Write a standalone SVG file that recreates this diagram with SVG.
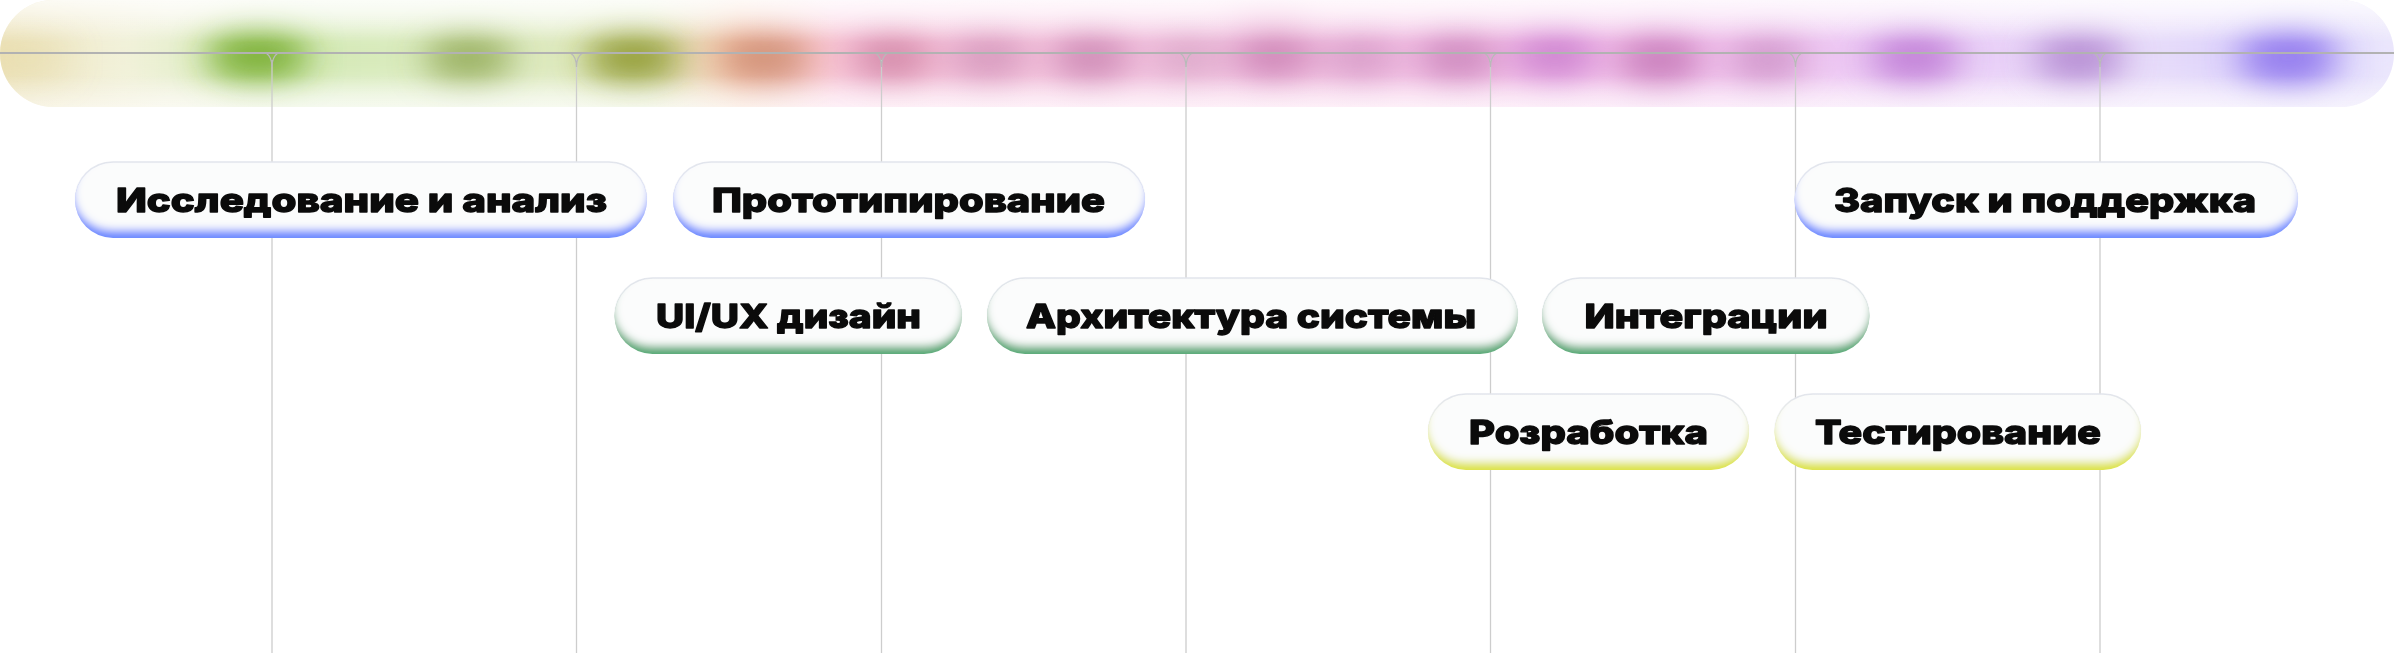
<svg xmlns="http://www.w3.org/2000/svg" width="2394" height="653" viewBox="0 0 2394 653">
<style>
.tl{stroke:#b2b2b2;stroke-width:2;fill:none}
.vl{stroke:#cdcdcd;stroke-width:1.3;fill:none}
.fl{stroke:#b9b9b9;stroke-width:1.3;fill:none}
.lbl{font-family:"Inter","Liberation Sans",sans-serif;font-weight:800;font-size:33px;fill:#0b0b0b;stroke:#0b0b0b;stroke-width:1.3;stroke-linejoin:round;text-anchor:middle}
.edge{fill:none;stroke:url(#edgeG);stroke-width:1.5}
.blue{fill:#6a88ff}
.green{fill:#52a873}
.yellow{fill:#dde33f}
</style>
<defs>
<clipPath id="bandClip"><rect x="0" y="0" width="2394" height="107" rx="53.5"/></clipPath>
<linearGradient id="bandH" x1="0" y1="0" x2="2394" y2="0" gradientUnits="userSpaceOnUse">
<stop offset="0" stop-color="#f1eacc"/>
<stop offset="0.07" stop-color="#f6f5e6"/>
<stop offset="0.12" stop-color="#eef6e2"/>
<stop offset="0.27" stop-color="#f1f6e4"/>
<stop offset="0.31" stop-color="#fbe8dd"/>
<stop offset="0.35" stop-color="#fde6f2"/>
<stop offset="0.6" stop-color="#fce4f4"/>
<stop offset="0.72" stop-color="#f9e0f7"/>
<stop offset="0.86" stop-color="#f5eafc"/>
<stop offset="1" stop-color="#eeeafc"/>
</linearGradient>
<linearGradient id="bandV" x1="0" y1="0" x2="0" y2="107" gradientUnits="userSpaceOnUse">
<stop offset="0" stop-color="#fff" stop-opacity="0.75"/>
<stop offset="0.4" stop-color="#fff" stop-opacity="0"/>
<stop offset="0.7" stop-color="#fff" stop-opacity="0"/>
<stop offset="1" stop-color="#fff" stop-opacity="0.45"/>
</linearGradient>
<linearGradient id="haloH" x1="0" y1="0" x2="2394" y2="0" gradientUnits="userSpaceOnUse">
<stop offset="0" stop-color="#e8daa6" stop-opacity="0.55"/>
<stop offset="0.05" stop-color="#eef0d4" stop-opacity="0.4"/>
<stop offset="0.1" stop-color="#bce090" stop-opacity="0.6"/>
<stop offset="0.2" stop-color="#cfe4a8" stop-opacity="0.55"/>
<stop offset="0.27" stop-color="#cdd894" stop-opacity="0.55"/>
<stop offset="0.31" stop-color="#f6b296" stop-opacity="0.65"/>
<stop offset="0.36" stop-color="#f4acca" stop-opacity="0.6"/>
<stop offset="0.5" stop-color="#f2b4da" stop-opacity="0.6"/>
<stop offset="0.65" stop-color="#f0aae2" stop-opacity="0.65"/>
<stop offset="0.73" stop-color="#eeb2ea" stop-opacity="0.6"/>
<stop offset="0.8" stop-color="#dcaef2" stop-opacity="0.5"/>
<stop offset="0.9" stop-color="#d8cbf8" stop-opacity="0.45"/>
<stop offset="0.96" stop-color="#bcaefc" stop-opacity="0.55"/>
<stop offset="1" stop-color="#e4e0fc" stop-opacity="0.3"/>
</linearGradient>
<filter id="haloBlur" filterUnits="userSpaceOnUse" x="-100" y="-100" width="2600" height="300">
<feGaussianBlur stdDeviation="12"/>
</filter>
<filter id="blobBlur" filterUnits="userSpaceOnUse" x="-100" y="-100" width="2600" height="300">
<feGaussianBlur stdDeviation="17"/>
</filter>
<linearGradient id="edgeG" x1="0" y1="0" x2="0" y2="1">
<stop offset="0" stop-color="#e2e5ec"/>
<stop offset="0.55" stop-color="#e2e5ec" stop-opacity="0"/>
</linearGradient>
<filter id="pill" x="-5%" y="-30%" width="110%" height="160%">
<feMorphology in="SourceAlpha" operator="dilate" radius="2 0" result="d"/>
<feGaussianBlur in="d" stdDeviation="4" result="b"/>
<feOffset in="b" dy="-8" result="o"/>
<feFlood flood-color="#fbfcfc" result="w"/>
<feComposite in="w" in2="o" operator="in" result="wo"/>
<feComposite in="wo" in2="SourceAlpha" operator="in" result="wc"/>
<feMerge><feMergeNode in="SourceGraphic"/><feMergeNode in="wc"/></feMerge>
</filter>
</defs>

<g id="band" clip-path="url(#bandClip)">
<rect x="0" y="0" width="2394" height="107" fill="url(#bandH)"/>
<rect x="-40" y="26" width="2474" height="60" fill="url(#haloH)" filter="url(#haloBlur)"/>
<g filter="url(#blobBlur)">
<ellipse cx="30" cy="58" rx="40" ry="24" fill="#e6d6a0" opacity="0.35"/>
<ellipse cx="258" cy="56" rx="52" ry="24" fill="#72aa28" opacity="0.95"/>
<ellipse cx="469" cy="58" rx="46" ry="22" fill="#86a046" opacity="0.85"/>
<ellipse cx="633" cy="58" rx="48" ry="24" fill="#889224" opacity="0.9"/>
<ellipse cx="765" cy="58" rx="46" ry="24" fill="#c8866a" opacity="0.85"/>
<ellipse cx="892" cy="58" rx="42" ry="22" fill="#c87898" opacity="0.8"/>
<ellipse cx="989" cy="58" rx="42" ry="22" fill="#c888b0" opacity="0.75"/>
<ellipse cx="1091" cy="58" rx="42" ry="22" fill="#c078a8" opacity="0.8"/>
<ellipse cx="1188" cy="58" rx="40" ry="20" fill="#c890b4" opacity="0.6"/>
<ellipse cx="1274" cy="56" rx="42" ry="22" fill="#c070a8" opacity="0.8"/>
<ellipse cx="1270" cy="14" rx="44" ry="20" fill="#f2b8dc" opacity="0.45"/>
<ellipse cx="1361" cy="58" rx="40" ry="20" fill="#c888b8" opacity="0.7"/>
<ellipse cx="1458" cy="58" rx="42" ry="22" fill="#c078b0" opacity="0.8"/>
<ellipse cx="1555" cy="56" rx="44" ry="22" fill="#c070c8" opacity="0.8"/>
<ellipse cx="1660" cy="60" rx="44" ry="24" fill="#c070b0" opacity="0.85"/>
<ellipse cx="1767" cy="60" rx="40" ry="22" fill="#c080b8" opacity="0.7"/>
<ellipse cx="1915" cy="58" rx="46" ry="24" fill="#b870d0" opacity="0.85"/>
<ellipse cx="2079" cy="58" rx="46" ry="24" fill="#a878c8" opacity="0.8"/>
<ellipse cx="2288" cy="58" rx="50" ry="26" fill="#8a70ec" opacity="0.9"/>
</g>
<rect x="0" y="0" width="2394" height="107" fill="url(#bandV)"/>
</g>

<g id="connectors">
<line class="vl" x1="272" y1="60" x2="272" y2="653"/>
<line class="vl" x1="576.5" y1="60" x2="576.5" y2="653"/>
<line class="vl" x1="881.5" y1="60" x2="881.5" y2="653"/>
<line class="vl" x1="1186" y1="60" x2="1186" y2="653"/>
<line class="vl" x1="1490.5" y1="60" x2="1490.5" y2="653"/>
<line class="vl" x1="1795.5" y1="60" x2="1795.5" y2="653"/>
<line class="vl" x1="2100" y1="60" x2="2100" y2="653"/>
<path class="fl" d="M266,53 C269,55 272,59 272,67 M278,53 C275,55 272,59 272,67"/>
<path class="fl" d="M570.5,53 C573.5,55 576.5,59 576.5,67 M582.5,53 C579.5,55 576.5,59 576.5,67"/>
<path class="fl" d="M875.5,53 C878.5,55 881.5,59 881.5,67 M887.5,53 C884.5,55 881.5,59 881.5,67"/>
<path class="fl" d="M1180,53 C1183,55 1186,59 1186,67 M1192,53 C1189,55 1186,59 1186,67"/>
<path class="fl" d="M1484.5,53 C1487.5,55 1490.5,59 1490.5,67 M1496.5,53 C1493.5,55 1490.5,59 1490.5,67"/>
<path class="fl" d="M1789.5,53 C1792.5,55 1795.5,59 1795.5,67 M1801.5,53 C1798.5,55 1795.5,59 1795.5,67"/>
<path class="fl" d="M2094,53 C2097,55 2100,59 2100,67 M2106,53 C2103,55 2100,59 2100,67"/>
<line class="tl" x1="0" y1="53" x2="2394" y2="53"/>
</g>

<g id="n1">
<rect class="blue" x="75" y="162" width="572" height="76" rx="38" filter="url(#pill)"/>
<rect class="edge" x="75" y="162" width="572" height="76" rx="38"/>
<text class="lbl" x="361.5" y="212" textLength="491" lengthAdjust="spacingAndGlyphs">Исследование и анализ</text>
</g>
<g id="n2">
<rect class="blue" x="673" y="162" width="472" height="76" rx="38" filter="url(#pill)"/>
<rect class="edge" x="673" y="162" width="472" height="76" rx="38"/>
<text class="lbl" x="908.5" y="212" textLength="393" lengthAdjust="spacingAndGlyphs">Прототипирование</text>
</g>
<g id="n3">
<rect class="green" x="614.5" y="278" width="347.5" height="76" rx="38" filter="url(#pill)"/>
<rect class="edge" x="614.5" y="278" width="347.5" height="76" rx="38"/>
<text class="lbl" x="788.5" y="328" textLength="265" lengthAdjust="spacingAndGlyphs">UI/UX дизайн</text>
</g>
<g id="n4">
<rect class="green" x="987" y="278" width="531" height="76" rx="38" filter="url(#pill)"/>
<rect class="edge" x="987" y="278" width="531" height="76" rx="38"/>
<text class="lbl" x="1251" y="328" textLength="450" lengthAdjust="spacingAndGlyphs">Архитектура системы</text>
</g>
<g id="n5">
<rect class="green" x="1542" y="278" width="327.5" height="76" rx="38" filter="url(#pill)"/>
<rect class="edge" x="1542" y="278" width="327.5" height="76" rx="38"/>
<text class="lbl" x="1706" y="328" textLength="243" lengthAdjust="spacingAndGlyphs">Интеграции</text>
</g>
<g id="n6">
<rect class="yellow" x="1428" y="394" width="321" height="76" rx="38" filter="url(#pill)"/>
<rect class="edge" x="1428" y="394" width="321" height="76" rx="38"/>
<text class="lbl" x="1588.5" y="444" textLength="239" lengthAdjust="spacingAndGlyphs">Розработка</text>
</g>
<g id="n7">
<rect class="yellow" x="1774.5" y="394" width="366.5" height="76" rx="38" filter="url(#pill)"/>
<rect class="edge" x="1774.5" y="394" width="366.5" height="76" rx="38"/>
<text class="lbl" x="1958" y="444" textLength="286" lengthAdjust="spacingAndGlyphs">Тестирование</text>
</g>
<g id="n8">
<rect class="blue" x="1794.5" y="162" width="503.5" height="76" rx="38" filter="url(#pill)"/>
<rect class="edge" x="1794.5" y="162" width="503.5" height="76" rx="38"/>
<text class="lbl" x="2045" y="212" textLength="422" lengthAdjust="spacingAndGlyphs">Запуск и поддержка</text>
</g>
</svg>
